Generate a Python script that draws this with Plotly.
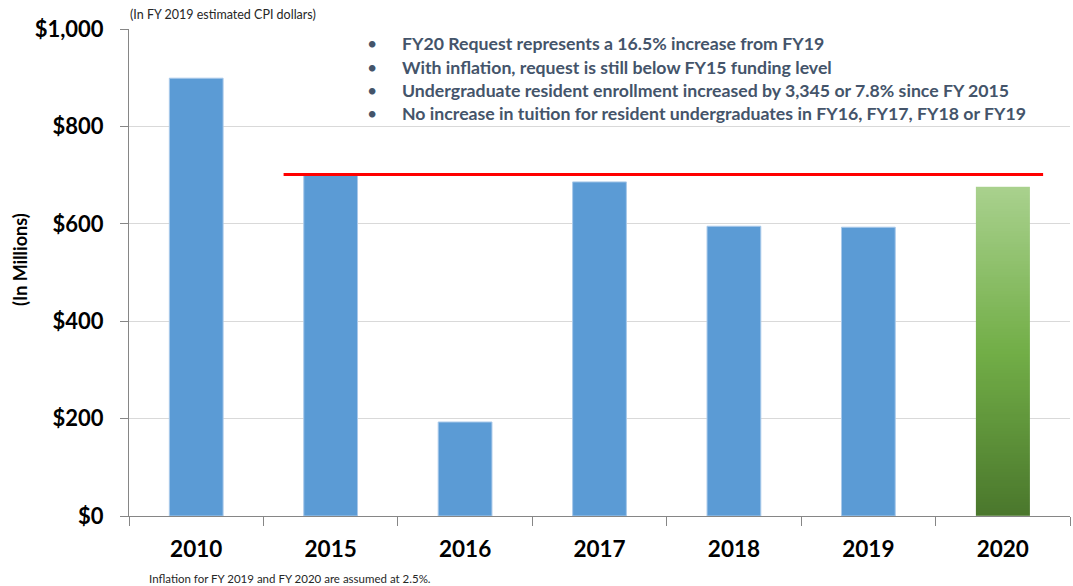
import numpy as np
import plotly.graph_objects as go

# ---- data ----
years = ["2010", "2015", "2016", "2017", "2018", "2019", "2020"]
funding = [899, 700, 193, 686, 595, 593, 676]          # $ millions
fy15_level = 701                                        # red reference line
fy15_line_span = [0.65, 6.30]                           # category-index span of red line
bullets = [
    "FY20 Request represents a 16.5% increase from FY19",
    "With inflation, request is still below FY15 funding level",
    "Undergraduate resident enrollment increased by 3,345 or 7.8% since FY 2015",
    "No increase in tuition for resident undergraduates in FY16, FY17, FY18 or FY19",
]
y_ticks = [0, 200, 400, 600, 800, 1000]
y_ticktext = ["$0", "$200", "$400", "$600", "$800", "$1,000"]

FONT = "Lato, Liberation Sans, Arial, sans-serif"
BAR_W = 0.4
xs = list(range(len(years)))

fig = go.Figure()

# blue bars (all but the request year)
fig.add_trace(go.Bar(
    x=xs[:-1], y=funding[:-1], width=BAR_W,
    marker=dict(color="#5b9bd5", line=dict(color="#a9c9ea", width=1)),
    showlegend=False, hoverinfo="skip",
))

# FY2020 request bar with vertical green gradient (heatmap bricks)
n = 120
ys = np.linspace(0, funding[-1], n + 1)
z = [[(i + 0.5) / n] for i in range(n)]
fig.add_trace(go.Heatmap(
    x=[xs[-1] - BAR_W / 2, xs[-1] + BAR_W / 2], y=ys, z=z,
    colorscale=[[0, "#4a772c"], [0.5, "#72ae47"], [1, "#a9d18e"]],
    zmin=0, zmax=1, showscale=False, hoverinfo="skip",
))

# red reference line
fig.add_trace(go.Scatter(
    x=fy15_line_span, y=[fy15_level, fy15_level], mode="lines",
    line=dict(color="#ff0000", width=3), showlegend=False, hoverinfo="skip",
))

fig.update_layout(
    width=1073, height=586,
    margin=dict(l=129, r=3, t=29, b=70),
    plot_bgcolor="white", paper_bgcolor="white",
    font=dict(family=FONT, color="black"),
    xaxis=dict(
        range=[-0.5, 6.5], tickmode="array", tickvals=xs, ticktext=years,
        ticks="", showgrid=False, zeroline=False,
        showline=True, linecolor="#868686", linewidth=1,
        tickfont=dict(size=22.5, family=FONT, color="black", weight="bold"),
        ticklabelstandoff=13,
        minor=dict(tickmode="array", tickvals=[i - 0.5 for i in range(len(years) + 1)],
                   ticks="outside", ticklen=9, tickcolor="#868686", showgrid=False),
    ),
    yaxis=dict(
        range=[0, 1000], tickmode="array", tickvals=y_ticks, ticktext=y_ticktext,
        ticks="outside", ticklen=8, tickcolor="#868686",
        showline=True, linecolor="#868686", linewidth=1,
        gridcolor="#d9d9d9", gridwidth=1, zeroline=False,
        tickfont=dict(size=22, family=FONT, color="black", weight="bold"),
        ticklabelstandoff=12,
    ),
)

# y title
fig.add_annotation(
    text="(In Millions)", textangle=-90, xref="paper", yref="paper",
    x=(20 - 129) / 941, y=(516 - 260) / 487, xanchor="center", yanchor="middle",
    showarrow=False,
    font=dict(size=18, family=FONT, color="black", weight="bold"),
)
# top note
fig.add_annotation(
    text="(In FY 2019 estimated CPI dollars)", xref="paper", yref="paper",
    x=-0.001, y=(516 - 15) / 487, xanchor="left", yanchor="middle", showarrow=False,
    font=dict(size=12.5, family=FONT, color="#262626"),
)
# bottom note
fig.add_annotation(
    text="Inflation for FY 2019 and FY 2020 are assumed at 2.5%.", xref="paper", yref="paper",
    x=(147 - 129) / 941, y=(516 - 578) / 487, xanchor="left", yanchor="middle", showarrow=False,
    font=dict(size=11.5, family=FONT, color="#262626"),
)
# bullets
line_y = [44, 67, 90, 113]
for txt, py in zip(bullets, line_y):
    yp = (516 - py) / 487
    fig.add_annotation(text="•", xref="paper", yref="paper", x=(372 - 129) / 941, y=yp,
                       xanchor="center", yanchor="middle", showarrow=False,
                       font=dict(size=17.7, family=FONT, color="#44546a"))
    fig.add_annotation(text=txt, xref="paper", yref="paper", x=(400 - 129) / 941, y=yp,
                       xanchor="left", yanchor="middle", showarrow=False,
                       font=dict(size=17.7, family=FONT, color="#44546a", weight="bold"))

fig.write_html("out.html", config={"displayModeBar": False},
               post_script="document.body.style.margin='0';document.body.style.padding='0';")
